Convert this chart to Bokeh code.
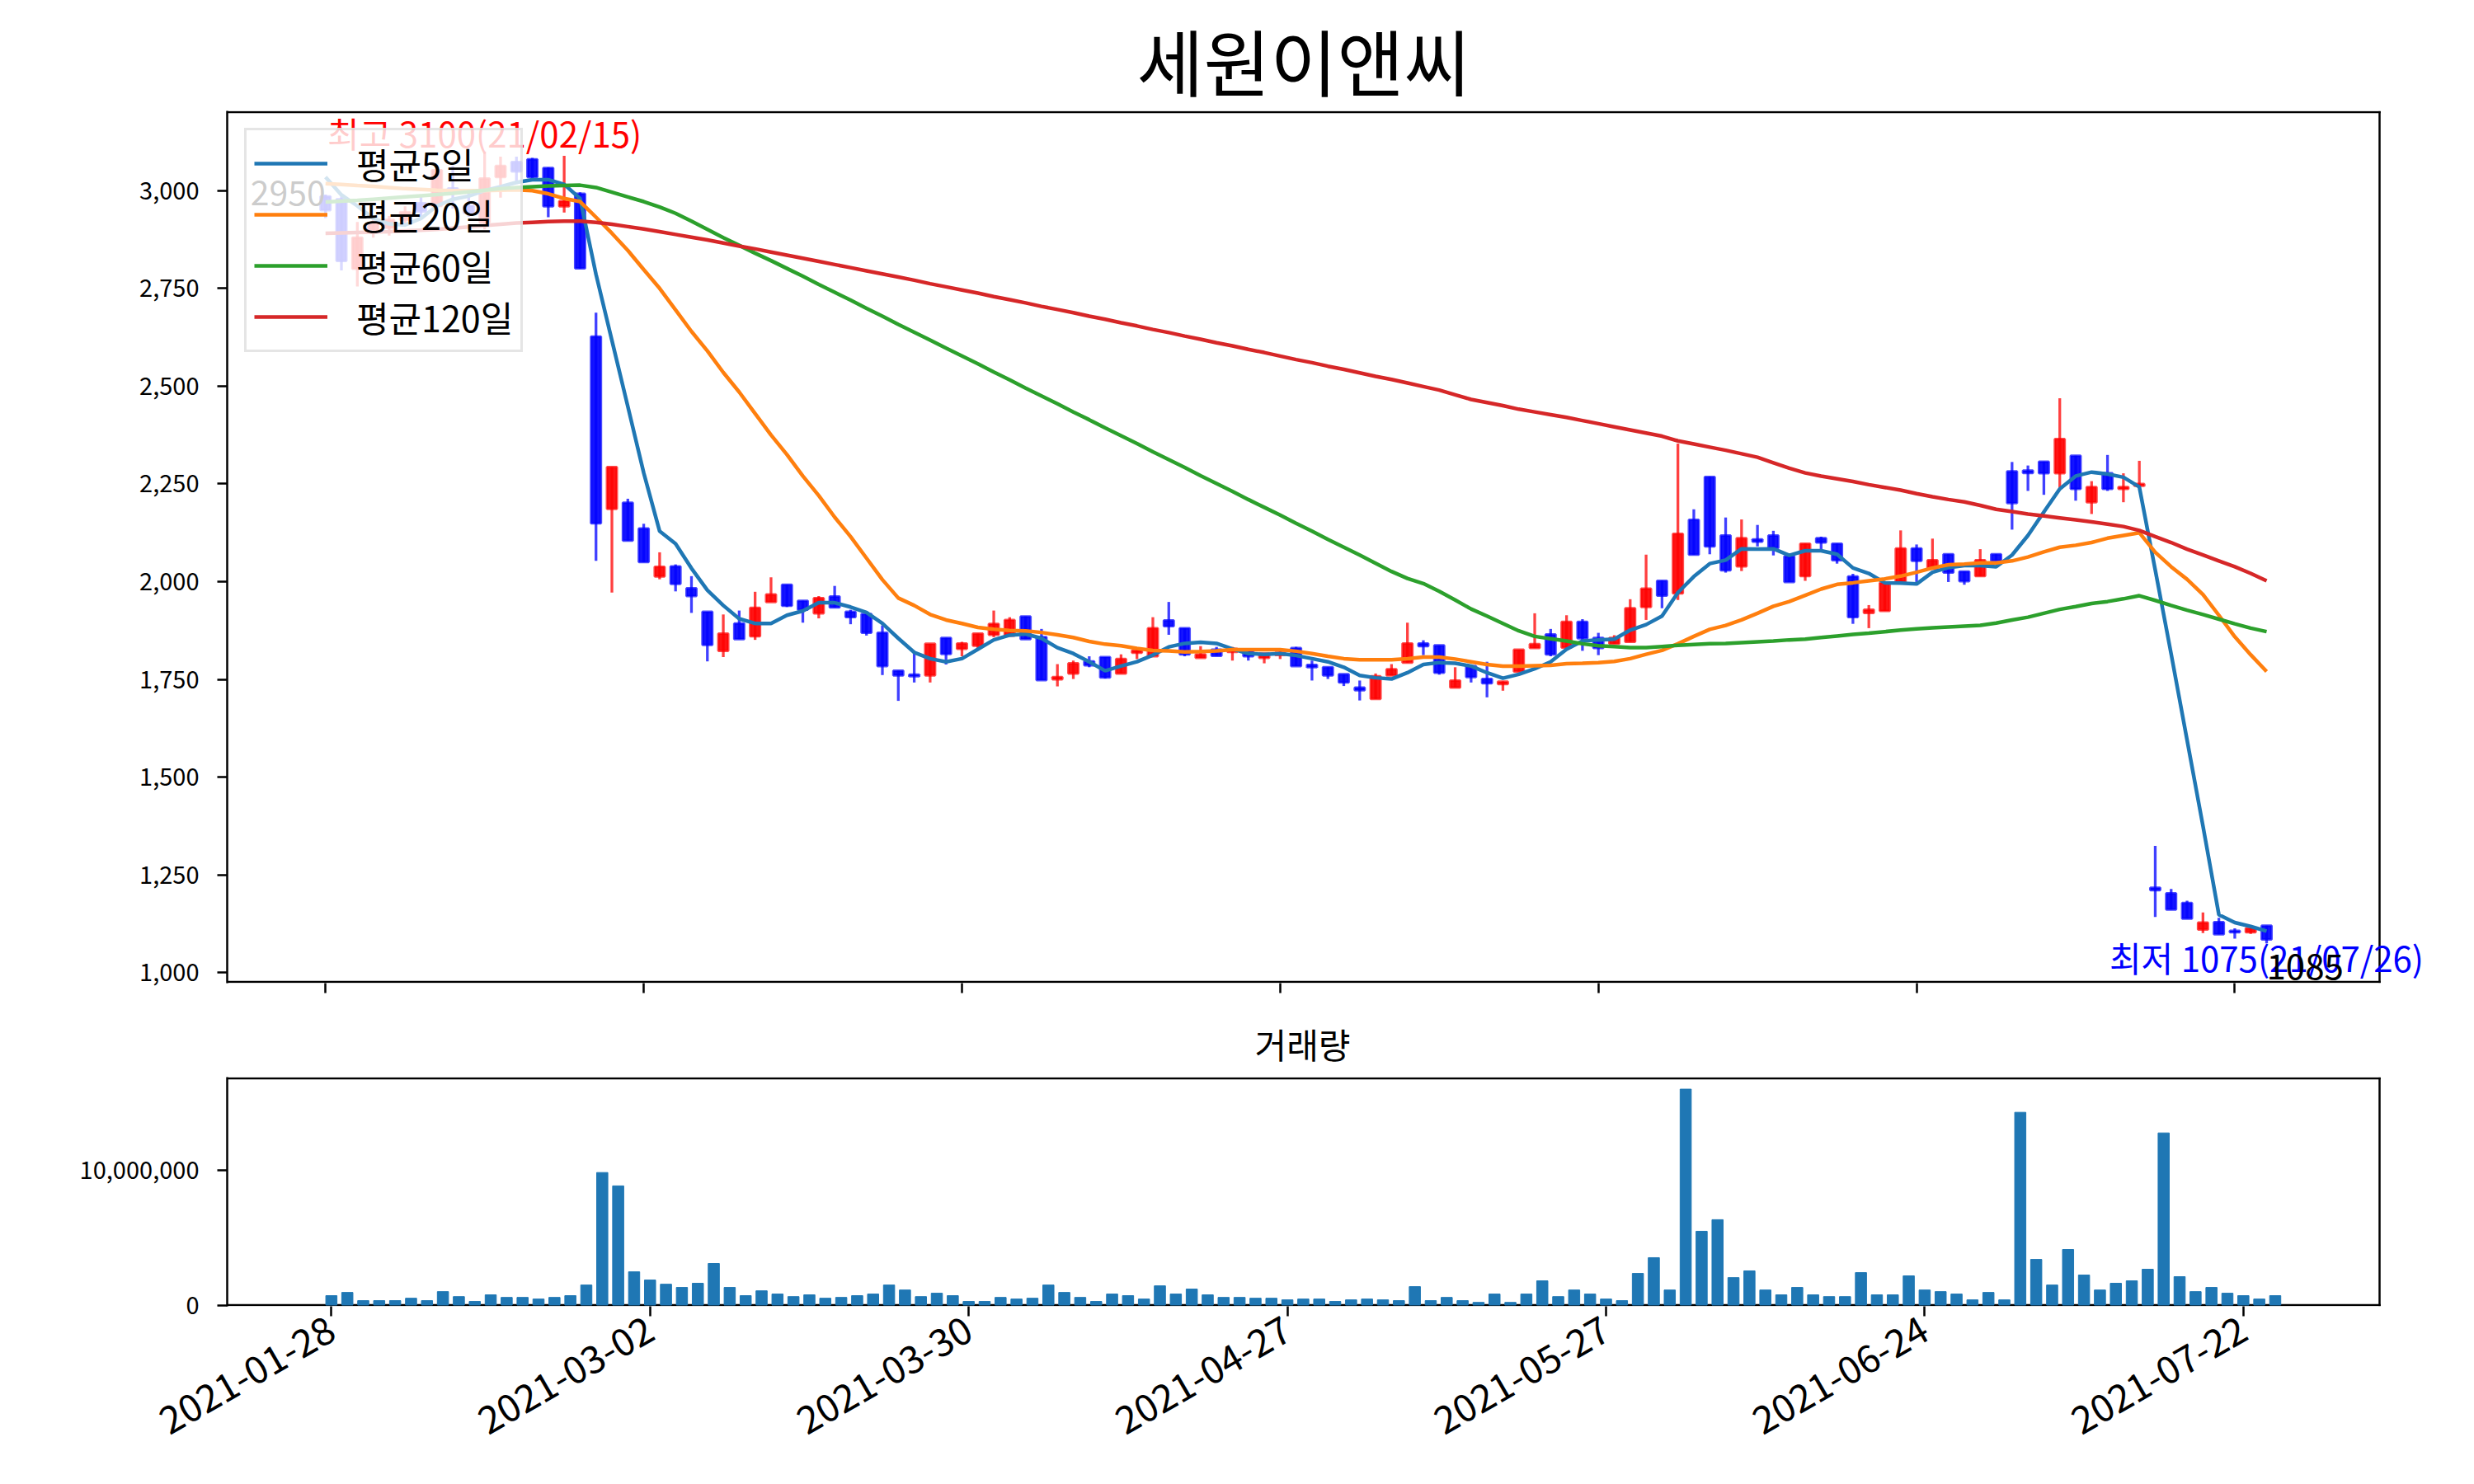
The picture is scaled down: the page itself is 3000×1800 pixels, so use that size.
import math
from bokeh.plotting import figure
from bokeh.models import (Range1d, FixedTicker, NumeralTickFormatter, Legend,
                          LegendItem, Label, ColumnDataSource)
from bokeh.layouts import column
from bokeh.embed import file_html
from bokeh.resources import INLINE

FONT = "Noto Sans CJK KR"

title_text = "세원이앤씨"
volume_title = "거래량"

tick_positions = [0, 20, 40, 60, 80, 100, 120]
tick_labels = ["2021-01-28", "2021-03-02", "2021-03-30", "2021-04-27",
               "2021-05-27", "2021-06-24", "2021-07-22"]

open_ = [2985, 2978, 2800, 2895, 2905, 2925, 2968, 2961, 3006, 2961,
         2919, 3035, 3073, 3080, 3058, 2960, 2992, 2627, 2186, 2202,
         2136, 2013, 2039, 1983, 1923, 1823, 1893, 1860, 1948, 1992,
         1951, 1919, 1962, 1923, 1917, 1869, 1772, 1762, 1760, 1856,
         1828, 1836, 1864, 1862, 1911, 1858, 1750, 1765, 1796, 1807,
         1765, 1818, 1809, 1901, 1881, 1805, 1826, 1820, 1823, 1805,
         1812, 1830, 1787, 1781, 1763, 1729, 1700, 1760, 1793, 1842,
         1837, 1729, 1784, 1751, 1738, 1770, 1830, 1865, 1831, 1897,
         1856, 1841, 1846, 1935, 2002, 1970, 2158, 2268, 2118, 2039,
         2108, 2118, 2065, 2014, 2111, 2097, 2013, 1920, 1925, 2000,
         2085, 2033, 2070, 2026, 2014, 2070, 2282, 2284, 2307, 2277,
         2322, 2203, 2277, 2237, 2245, 1217, 1203, 1178, 1110, 1129,
         1107, 1103, 1120]

high = [2990, 2985, 2920, 2925, 2935, 2960, 2985, 3063, 3063, 2999,
        3100, 3087, 3087, 3084, 3059, 3089, 2996, 2688, 2293, 2212,
        2148, 2075, 2044, 2014, 1923, 1916, 1926, 1974, 2011, 1992,
        1951, 1963, 1989, 1928, 1917, 1888, 1772, 1823, 1841, 1856,
        1846, 1867, 1926, 1909, 1911, 1879, 1789, 1798, 1809, 1807,
        1814, 1826, 1909, 1948, 1881, 1835, 1833, 1833, 1823, 1816,
        1822, 1833, 1798, 1781, 1763, 1747, 1765, 1789, 1895, 1850,
        1837, 1781, 1784, 1795, 1745, 1826, 1919, 1879, 1914, 1904,
        1869, 1863, 1955, 2069, 2002, 2353, 2185, 2268, 2164, 2159,
        2145, 2130, 2065, 2097, 2115, 2097, 2020, 1940, 1997, 2131,
        2095, 2110, 2070, 2026, 2083, 2070, 2306, 2297, 2307, 2469,
        2322, 2257, 2324, 2277, 2309, 1324, 1214, 1184, 1154, 1140,
        1113, 1113, 1120]

low = [2930, 2796, 2755, 2880, 2885, 2915, 2930, 2950, 2954, 2933,
       2901, 2982, 3017, 3030, 2932, 2944, 2801, 2053, 1972, 2105,
       2050, 2006, 1975, 1920, 1796, 1807, 1853, 1851, 1948, 1935,
       1895, 1906, 1934, 1891, 1862, 1761, 1695, 1742, 1742, 1788,
       1809, 1830, 1858, 1862, 1853, 1748, 1732, 1751, 1781, 1752,
       1765, 1802, 1808, 1864, 1809, 1805, 1810, 1798, 1798, 1791,
       1802, 1784, 1747, 1751, 1733, 1696, 1700, 1760, 1793, 1812,
       1762, 1729, 1742, 1704, 1721, 1770, 1830, 1809, 1831, 1823,
       1812, 1841, 1846, 1902, 1932, 1953, 2069, 2070, 2023, 2027,
       2090, 2067, 1999, 2002, 2083, 2046, 1892, 1881, 1925, 2000,
       1999, 2033, 1999, 1992, 2014, 2053, 2133, 2232, 2222, 2240,
       2207, 2173, 2232, 2203, 2240, 1142, 1161, 1138, 1101, 1098,
       1087, 1099, 1075]

close = [2950, 2820, 2880, 2915, 2925, 2945, 2947, 3052, 2993, 2943,
         3031, 3063, 3049, 3035, 2960, 2973, 2801, 2149, 2293, 2105,
         2050, 2038, 1994, 1963, 1838, 1867, 1853, 1933, 1967, 1938,
         1928, 1958, 1934, 1909, 1869, 1784, 1760, 1758, 1841, 1815,
         1842, 1867, 1892, 1902, 1853, 1748, 1756, 1791, 1786, 1755,
         1802, 1824, 1881, 1886, 1814, 1814, 1810, 1828, 1809, 1816,
         1818, 1784, 1781, 1760, 1742, 1722, 1758, 1776, 1842, 1835,
         1767, 1747, 1756, 1740, 1744, 1826, 1840, 1814, 1897, 1855,
         1830, 1856, 1932, 1982, 1964, 2122, 2069, 2090, 2029, 2111,
         2102, 2086, 1999, 2097, 2100, 2055, 1909, 1928, 1997, 2085,
         2053, 2055, 2023, 2001, 2055, 2053, 2201, 2278, 2277, 2365,
         2237, 2242, 2237, 2242, 2250, 1211, 1161, 1138, 1128, 1098,
         1103, 1113, 1085]

volume = [700000, 940000, 330000, 330000, 330000, 510000, 330000, 1000000, 630000, 270000,
          760000, 570000, 570000, 450000, 570000, 700000, 1490000, 9840000, 8850000, 2470000,
          1860000, 1550000, 1310000, 1620000, 3090000, 1310000, 700000, 1060000, 820000, 630000,
          760000, 510000, 570000, 700000, 820000, 1490000, 1120000, 630000, 880000, 700000,
          270000, 270000, 570000, 450000, 510000, 1490000, 940000, 570000, 270000, 820000,
          700000, 450000, 1430000, 820000, 1190000, 760000, 570000, 570000, 510000, 510000,
          390000, 450000, 450000, 270000, 390000, 450000, 390000, 330000, 1370000, 330000,
          570000, 330000, 200000, 820000, 200000, 820000, 1800000, 630000, 1120000, 820000,
          450000, 330000, 2350000, 3520000, 1120000, 16030000, 5480000, 6340000, 2040000, 2540000,
          1120000, 760000, 1310000, 760000, 630000, 630000, 2410000, 760000, 760000, 2170000,
          1120000, 1000000, 820000, 390000, 940000, 390000, 14310000, 3390000, 1490000, 4130000,
          2230000, 1120000, 1620000, 1800000, 2660000, 12780000, 2110000, 1000000, 1310000, 880000,
          700000, 450000, 700000]

ma5 = [3035, 2989, 2961, 2929, 2915, 2912, 2929, 2961, 2978, 2986,
       3000, 3010, 3021, 3028, 3028, 3016, 2980, 2786, 2617, 2448,
       2278, 2129, 2097, 2034, 1978, 1939, 1905, 1893, 1893, 1914,
       1925, 1946, 1946, 1935, 1921, 1893, 1855, 1819, 1803, 1795,
       1803, 1827, 1851, 1863, 1866, 1855, 1831, 1816, 1795, 1772,
       1784, 1795, 1812, 1833, 1842, 1845, 1842, 1828, 1816, 1814,
       1816, 1811, 1803, 1795, 1781, 1760, 1754, 1751, 1767, 1788,
       1793, 1791, 1784, 1767, 1753, 1763, 1777, 1795, 1827, 1848,
       1851, 1853, 1876, 1890, 1912, 1972, 2013, 2046, 2055, 2084,
       2083, 2084, 2067, 2079, 2079, 2070, 2035, 2021, 1997, 1996,
       1994, 2024, 2036, 2041, 2041, 2038, 2068, 2118, 2178, 2237,
       2270, 2280, 2275, 2267, 2242, 2030, 1815, 1595, 1375, 1148,
       1128, 1118, 1106]

ma20 = [3018, 3016, 3013, 3011, 3008, 3005, 3003, 3001, 3000, 3000,
        3000, 3001, 3002, 3000, 2992, 2980, 2972, 2932, 2891, 2847,
        2798, 2750, 2695, 2640, 2590, 2535, 2485, 2430, 2375, 2325,
        2270, 2220, 2165, 2115, 2060, 2005, 1958, 1939, 1916, 1902,
        1893, 1883, 1878, 1875, 1874, 1870, 1864, 1857, 1847, 1840,
        1836, 1829, 1824, 1823, 1820, 1821, 1823, 1826, 1826, 1826,
        1826, 1822, 1816, 1809, 1803, 1800, 1800, 1800, 1803, 1807,
        1807, 1802, 1795, 1788, 1784, 1784, 1785, 1786, 1790, 1791,
        1793, 1796, 1803, 1814, 1824, 1841, 1860, 1878, 1888, 1902,
        1919, 1937, 1949, 1965, 1981, 1993, 1997, 2002, 2007, 2014,
        2024, 2035, 2043, 2045, 2048, 2048, 2053, 2063, 2076, 2088,
        2093, 2100, 2111, 2118, 2125, 2075, 2038, 2006, 1967, 1914,
        1859, 1813, 1770]

ma60 = [2971, 2973, 2975, 2978, 2981, 2984, 2987, 2990, 2993, 2997,
        3001, 3005, 3008, 3010, 3012, 3013, 3014, 3008, 2996, 2984,
        2972, 2958, 2942, 2922, 2901, 2880, 2860, 2840, 2821, 2801,
        2781, 2760, 2740, 2720, 2699, 2679, 2658, 2638, 2618, 2597,
        2577, 2557, 2536, 2516, 2495, 2475, 2455, 2434, 2414, 2393,
        2373, 2353, 2332, 2312, 2292, 2271, 2251, 2231, 2210, 2190,
        2170, 2149, 2129, 2108, 2088, 2068, 2047, 2026, 2008, 1995,
        1975, 1953, 1930, 1912, 1893, 1874, 1860, 1854, 1848, 1841,
        1836, 1834, 1831, 1831, 1834, 1837, 1839, 1841, 1842, 1844,
        1846, 1848, 1851, 1853, 1857, 1861, 1865, 1868, 1872, 1876,
        1879, 1882, 1884, 1886, 1888, 1894, 1902, 1909, 1919, 1929,
        1936, 1944, 1949, 1956, 1964, 1952, 1939, 1927, 1916, 1904,
        1892, 1881, 1872]

ma120 = [2891, 2892, 2893, 2894, 2895, 2897, 2899, 2901, 2904, 2907,
         2911, 2914, 2917, 2919, 2921, 2922, 2922, 2919, 2914, 2908,
         2902, 2895, 2888, 2881, 2874, 2866, 2858, 2851, 2843, 2835,
         2827, 2819, 2811, 2803, 2795, 2787, 2779, 2771, 2762, 2754,
         2746, 2738, 2729, 2721, 2713, 2704, 2696, 2688, 2679, 2671,
         2662, 2654, 2645, 2637, 2628, 2620, 2611, 2603, 2594, 2586,
         2577, 2568, 2560, 2551, 2543, 2534, 2525, 2517, 2508, 2499,
         2490, 2478, 2466, 2458, 2450, 2441, 2434, 2427, 2420, 2412,
         2404, 2396, 2388, 2380, 2372, 2360, 2352, 2344, 2336, 2327,
         2318, 2304, 2290, 2278, 2270, 2263, 2256, 2248, 2241, 2234,
         2225, 2217, 2210, 2204, 2195, 2185, 2179, 2173, 2168, 2163,
         2158, 2153, 2147, 2141, 2131, 2115, 2100, 2083, 2068, 2053,
         2038, 2021, 2002]

ma_names = ["평균5일", "평균20일", "평균60일", "평균120일"]
ma_colors = ["#1f77b4", "#ff7f0e", "#2ca02c", "#d62728"]

high_text = "최고 3100(21/02/15)"
low_text = "최저 1075(21/07/26)"
first_text = "2950"
last_text = "1085"

n = len(close)
idx = list(range(n))

# box limits of the two panels
PX0, PX1, PY0, PY1 = -6.18, 129.1, 976, 3201          # price panel
VX0, VX1, VY0, VY1 = -6.54, 128.55, 0, 16830000       # volume panel
EXTRA_PX = 60          # frame runs this far past the drawn right edge


def style_axes(p, xsize, ysize):
    p.grid.visible = False
    p.outline_line_color = None
    for ax in (p.xaxis, p.yaxis):
        ax.axis_line_color = "black"
        ax.axis_line_width = 2.5
        ax.major_tick_line_color = "black"
        ax.major_tick_line_width = 2.5
        ax.major_tick_out = 12
        ax.major_tick_in = 0
        ax.minor_tick_line_color = None
        ax.major_label_text_font = FONT
        ax.major_label_text_color = "black"
    p.xaxis.major_label_standoff = 12
    p.yaxis.major_label_standoff = 22
    p.xaxis.axis_line_color = None
    p.xaxis.major_label_text_font_size = xsize
    p.yaxis.major_label_text_font_size = ysize


def draw_box(p, x0, x1, y0, y1):
    p.segment(x0=[x0, x0, x1], y0=[y1, y0, y0], x1=[x1, x1, x1], y1=[y1, y0, y1],
              line_color="black", line_width=2.5, line_cap="square")


# ---------------- main price chart ----------------
p1 = figure(width=2990, height=1222,
            x_range=Range1d(PX0, PX1 + EXTRA_PX / 19.293),
            y_range=Range1d(PY0 - 3, PY1 + 3),
            output_backend="svg", toolbar_location=None,
            min_border_left=275, min_border_right=45,
            min_border_top=134, min_border_bottom=30,
            background_fill_color="white", border_fill_color="white")
p1.title.text = title_text
p1.title.align = "left"
p1.title.offset = 1103
p1.title.text_font = FONT
p1.title.text_font_size = "88px"
p1.title.text_font_style = "normal"
p1.title.text_color = "black"
p1.title.standoff = 0
style_axes(p1, "0px", "29px")
p1.xaxis.major_label_standoff = 0
p1.xaxis.ticker = FixedTicker(ticks=tick_positions)
p1.xaxis.major_label_overrides = {t: "" for t in tick_positions}
p1.yaxis.ticker = FixedTicker(ticks=[1000, 1250, 1500, 1750, 2000, 2250, 2500, 2750, 3000])
p1.yaxis.formatter = NumeralTickFormatter(format="0,0")
draw_box(p1, PX0, PX1, PY0, PY1)

up_i = [i for i in idx if close[i] >= open_[i]]
dn_i = [i for i in idx if close[i] < open_[i]]


def candle_src(ids):
    return ColumnDataSource(dict(
        x=ids,
        top=[max(open_[i], close[i]) for i in ids],
        bottom=[min(open_[i], close[i]) for i in ids],
        high=[high[i] for i in ids],
        low=[low[i] for i in ids],
    ))


for ids, col in ((up_i, "#ff0000"), (dn_i, "#0000ff")):
    s = candle_src(ids)
    p1.segment(x0="x", y0="low", x1="x", y1="high", source=s,
               line_color=col, line_alpha=0.75, line_width=3.3)
    p1.vbar(x="x", width=0.62, top="top", bottom="bottom", source=s,
            fill_color=col, fill_alpha=0.92, line_color=col,
            line_alpha=0.7, line_width=3)

ma_renderers = []
for vals, col in zip((ma5, ma20, ma60, ma120), ma_colors):
    r = p1.line(idx, vals, line_color=col, line_width=4.5)
    ma_renderers.append(r)

p1.add_layout(Label(x=10, y=3100, text=high_text, text_color="#ff0000",
                    text_align="center", text_baseline="bottom", y_offset=-7,
                    text_font=FONT, text_font_size="42px"))
p1.add_layout(Label(x=122, y=1075, text=low_text, text_color="#0000ff",
                    text_align="center", text_baseline="top", y_offset=14,
                    text_font=FONT, text_font_size="42px"))
p1.add_layout(Label(x=122, y=1085, text=last_text, text_color="black",
                    text_align="left", text_baseline="top", y_offset=-18,
                    text_font=FONT, text_font_size="42px"))
p1.add_layout(Label(x=0, y=2950, text=first_text, text_color="black",
                    text_align="right", text_baseline="bottom", y_offset=6,
                    text_font=FONT, text_font_size="41px"))

legend = Legend(items=[LegendItem(label=nm, renderers=[r])
                       for nm, r in zip(ma_names, ma_renderers)],
                location="top_left", margin=21, padding=9,
                glyph_width=89, glyph_height=40, label_standoff=35,
                spacing=0, label_text_font=FONT, label_text_font_size="43px",
                label_text_color="black",
                border_line_color="#cccccc", border_line_width=3,
                background_fill_color="white", background_fill_alpha=0.8)
p1.add_layout(legend)

# ---------------- volume chart ----------------
vpad = (VY1 - VY0) / 275 * 1.5
p2 = figure(width=2990, height=552,
            x_range=Range1d(VX0, VX1 + EXTRA_PX / 19.32),
            y_range=Range1d(VY0 - vpad, VY1 + vpad),
            output_backend="svg", toolbar_location=None,
            min_border_left=275, min_border_right=45,
            min_border_top=84, min_border_bottom=190,
            background_fill_color="white", border_fill_color="white")
p2.title.text = volume_title
p2.title.align = "left"
p2.title.offset = 1246
p2.title.text_font = FONT
p2.title.text_font_size = "42px"
p2.title.text_font_style = "normal"
p2.title.text_color = "black"
p2.title.standoff = 21
style_axes(p2, "46px", "29px")
draw_box(p2, VX0, VX1, VY0, VY1)
p2.vbar(x=idx, top=volume, width=0.7, color="#1f77b4")
p2.xaxis.ticker = FixedTicker(ticks=tick_positions)
p2.xaxis.major_label_overrides = dict(zip(tick_positions, tick_labels))
p2.xaxis.major_label_orientation = math.pi / 6
p2.yaxis.ticker = FixedTicker(ticks=[0, 10000000])
p2.yaxis.formatter = NumeralTickFormatter(format="0,0")

layout = column(p1, p2, spacing=0)
open("out.html", "w").write(file_html(layout, INLINE))
